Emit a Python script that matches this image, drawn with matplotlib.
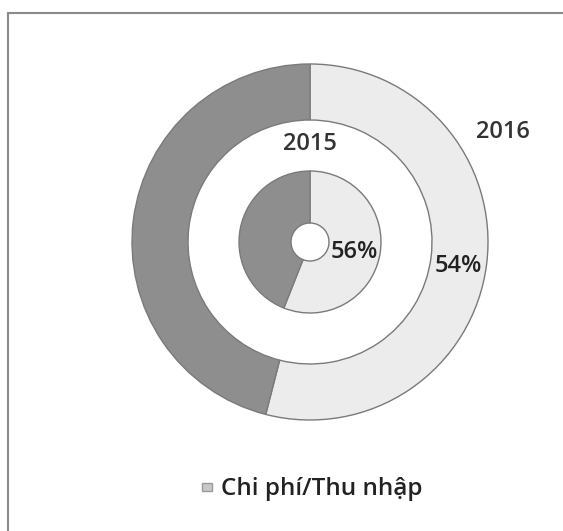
import matplotlib
matplotlib.use("Agg")
import matplotlib.pyplot as plt
from matplotlib.patches import Rectangle

# Data
series_names = ["2016", "2015"]
outer_values = [54, 46]   # 2016: Chi phí/Thu nhập vs remainder
inner_values = [56, 44]   # 2015
outer_label = "54%"
inner_label = "56%"
legend_label = "Chi phí/Thu nhập"

light = "#ececec"
dark = "#8e8e8e"
edge = "#7a7a7a"

W, H = 563, 531
fig = plt.figure(figsize=(W / 100, H / 100), dpi=100)
ax = fig.add_axes([0, 0, 1, 1])
ax.set_xlim(0, W)
ax.set_ylim(0, H)
ax.set_aspect("equal")
ax.axis("off")

cx, cy = 310, H - 242

# frame
ax.add_patch(Rectangle((8, -10), W, H - 13 + 10, fill=False, edgecolor="#8a8a8a", lw=1.5))

ax.pie(outer_values, radius=178, center=(cx, cy), startangle=90, counterclock=False,
       colors=[light, dark], frame=True,
       wedgeprops=dict(width=56, edgecolor=edge, linewidth=1.0))
ax.pie(inner_values, radius=71, center=(cx, cy), startangle=90, counterclock=False,
       colors=[light, dark], frame=True,
       wedgeprops=dict(width=52, edgecolor=edge, linewidth=1.0))

ax.set_xlim(0, W)
ax.set_ylim(0, H)
ax.axis("off")

font = ["Open Sans", "DejaVu Sans"]
ax.text(503, H - 132, series_names[0], fontsize=17, family=font, fontweight="semibold",
        color="#333333", ha="center", va="center")
ax.text(310, H - 144, series_names[1], fontsize=17, family=font, fontweight="semibold",
        color="#333333", ha="center", va="center")
ax.text(354, H - 252, inner_label, fontsize=17, family=font, fontweight="semibold",
        color="#222222", ha="center", va="center")
ax.text(458, H - 266, outer_label, fontsize=17, family=font, fontweight="semibold",
        color="#222222", ha="center", va="center")

# legend
ax.add_patch(Rectangle((202, H - 491), 10, 8, facecolor="#c8c8c8", edgecolor="#999999", lw=1))
ax.text(221, H - 489, legend_label, fontsize=17.5, family=font, fontweight="semibold",
        color="#222222", ha="left", va="center")

fig.savefig("out.png", dpi=100)
